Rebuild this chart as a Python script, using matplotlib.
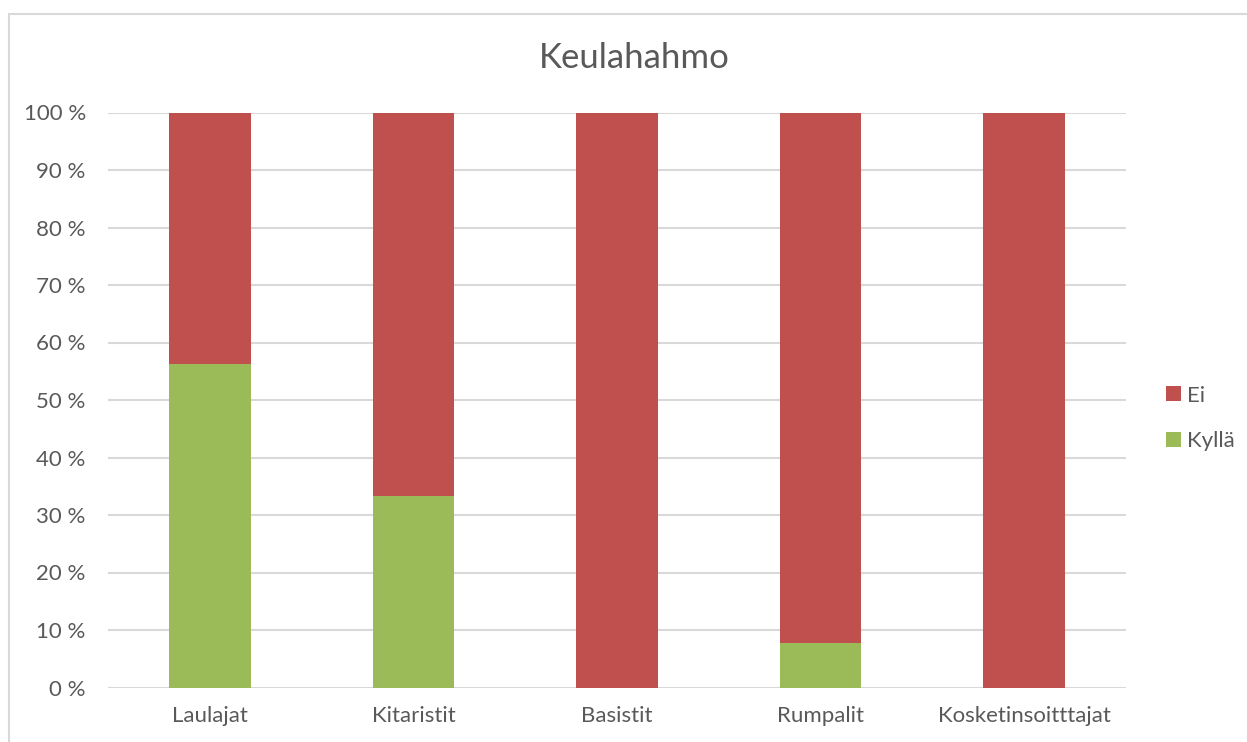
import matplotlib
matplotlib.use("Agg")
import matplotlib.pyplot as plt
from matplotlib.patches import Rectangle
from matplotlib.ticker import FuncFormatter

categories = ["Laulajat", "Kitaristit", "Basistit", "Rumpalit", "Kosketinsoitttajat"]
kylla = [0.5625, 0.3333, 0.0, 0.0769, 0.0]
ei = [1 - v for v in kylla]

red = "#C0504D"
green = "#9BBB59"
txt = "#595959"
grid = "#D9D9D9"

plt.rcParams["font.family"] = ["Lato", "DejaVu Sans"]

fig = plt.figure(figsize=(12.47, 7.42), dpi=100)
ax = fig.add_axes([108/1247, 1 - 687.5/742, (1126-108)/1247, (687.5-112.5)/742])

# chart border (opens past the right/bottom edge like the screenshot)
fig.patches.append(Rectangle((9/1247, -0.1), 1.2, 1 - 14/742 + 0.1,
                             transform=fig.transFigure, fill=False,
                             edgecolor=grid, linewidth=1.5))

x = range(len(categories))
b1 = ax.bar(x, kylla, width=0.4, color=green, zorder=3, label="Kyllä")
b2 = ax.bar(x, ei, width=0.4, bottom=kylla, color=red, zorder=3, label="Ei")

ax.set_xlim(-0.5, len(categories) - 0.5)
ax.set_ylim(0, 1)
ax.set_yticks([i / 10 for i in range(11)])
ax.yaxis.set_major_formatter(FuncFormatter(lambda v, p: f"{round(v*100)} %"))
ax.set_xticks(list(x))
ax.set_xticklabels(categories)
ax.tick_params(length=0, labelsize=16, labelcolor=txt)
ax.tick_params(axis="y", pad=16)
ax.tick_params(axis="x", pad=13)
ax.grid(axis="y", color=grid, linewidth=1.5, zorder=0)
for s in ax.spines.values():
    s.set_visible(False)

fig.text(634/1247, 1 - 58/742, "Keulahahmo", ha="center", va="center",
         fontsize=25, color=txt)

ax.legend([b2, b1], ["Ei", "Kyllä"], loc="center left",
          bbox_to_anchor=(1.02, 0.468), frameon=False, fontsize=16,
          labelcolor=txt, handlelength=0.65, handleheight=0.65,
          handletextpad=0.3, labelspacing=1.15)

fig.savefig("out.png", dpi=100, facecolor="white")
